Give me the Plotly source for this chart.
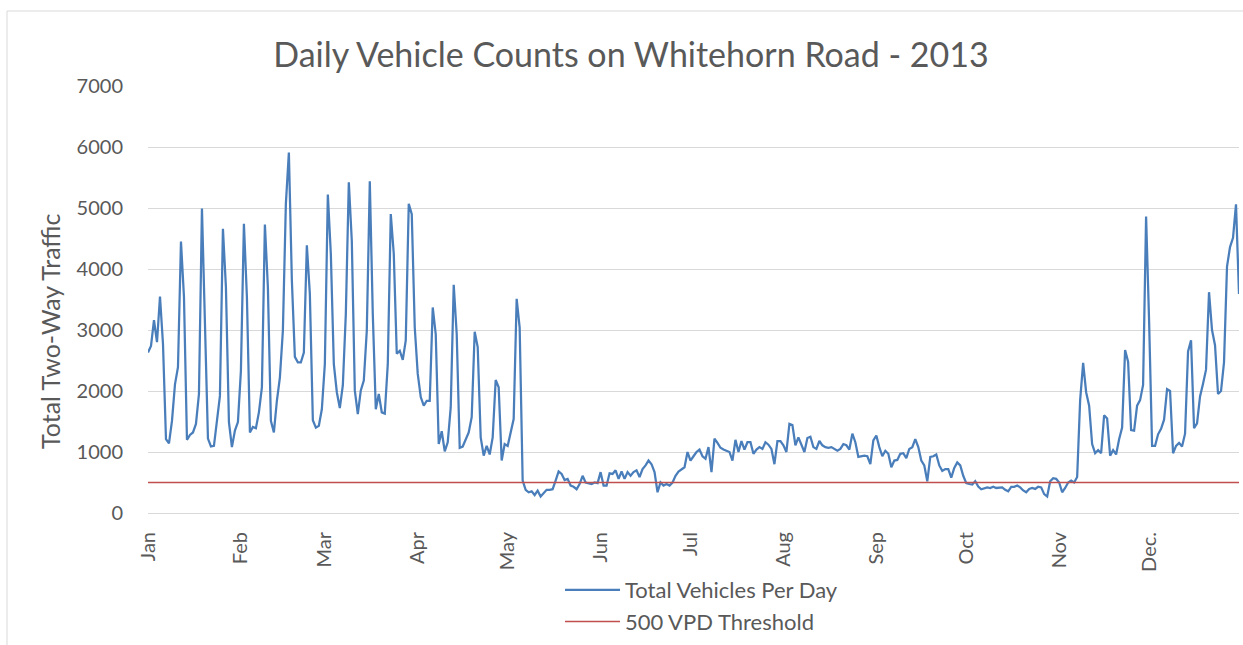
import pandas as pd
import plotly.graph_objects as go

# ---- data -----------------------------------------------------------
start_date = "2013-01-01"
vehicles_per_day = [
    2630, 2740, 3160, 2800, 3550, 2770, 1210, 1140, 1510, 2110,
    2390, 4450, 3540, 1200, 1280, 1320, 1460, 1950, 4990, 3300,
    1220, 1090, 1100, 1510, 1920, 4660, 3700, 1490, 1080, 1350,
    1490, 2330, 4740, 3540, 1320, 1410, 1390, 1650, 2060, 4730,
    3700, 1510, 1320, 1840, 2220, 2990, 5070, 5910, 3810, 2560,
    2470, 2470, 2630, 4390, 3590, 1520, 1400, 1430, 1700, 2440,
    5220, 4250, 2440, 1980, 1720, 2090, 3260, 5420, 4460, 2010,
    1620, 2010, 2170, 2990, 5440, 3260, 1700, 1950, 1650, 1630,
    2440, 4900, 4250, 2610, 2660, 2510, 2830, 5070, 4900, 3040,
    2280, 1900, 1760, 1840, 1840, 3370, 2930, 1130, 1340, 1010,
    1160, 1730, 3740, 2930, 1070, 1090, 1210, 1320, 1570, 2970,
    2720, 1240, 940, 1100, 960, 1240, 2180, 2060, 860, 1130,
    1100, 1300, 1540, 3510, 3040, 530, 380, 340, 355, 295,
    366, 270, 320, 380, 380, 390, 530, 680, 640, 540,
    560, 450, 430, 390, 475, 610, 500, 490, 475, 500,
    490, 670, 450, 450, 650, 640, 700, 560, 680, 560,
    670, 610, 670, 700, 590, 720, 780, 860, 800, 670,
    340, 500, 450, 475, 450, 500, 610, 680, 720, 750,
    1000, 860, 930, 1000, 1040, 930, 890, 1080, 670, 1220,
    1150, 1070, 1040, 1020, 1000, 860, 1200, 1000, 1180, 1040,
    1160, 1160, 970, 1040, 1080, 1050, 1160, 1120, 1050, 800,
    1180, 1180, 1110, 1000, 1460, 1440, 1110, 1240, 1110, 1000,
    1230, 1250, 1080, 1050, 1180, 1110, 1080, 1070, 1080, 1050,
    1020, 1050, 1130, 1110, 1040, 1300, 1160, 920, 930, 940,
    930, 800, 1190, 1270, 1080, 930, 1020, 970, 750, 860,
    870, 970, 980, 900, 1050, 1080, 1210, 1080, 860, 780,
    520, 920, 930, 960, 780, 690, 720, 720, 580, 740,
    830, 780, 610, 490, 475, 465, 520, 435, 390, 410,
    420, 410, 430, 410, 420, 420, 380, 355, 430, 430,
    450, 420, 370, 340, 395, 410, 395, 430, 420, 310,
    270, 520, 570, 560, 500, 340, 410, 500, 530, 500,
    590, 1850, 2460, 1980, 1760, 1130, 980, 1030, 980, 1600,
    1550, 940, 1030, 960, 1210, 1400, 2670, 2480, 1360, 1350,
    1760, 1850, 2100, 4860, 3160, 1100, 1100, 1290, 1380, 1530,
    2030, 2000, 980, 1100, 1150, 1090, 1300, 2650, 2830, 1390,
    1470, 1910, 2120, 2350, 3620, 3000, 2750, 1950, 2000, 2470,
    4040, 4360, 4510, 5060, 3590,
]
threshold_vpd = 500
month_starts = ["2013-01-01", "2013-02-01", "2013-03-01", "2013-04-01",
                "2013-05-01", "2013-06-01", "2013-07-01", "2013-08-01",
                "2013-09-01", "2013-10-01", "2013-11-01", "2013-12-01"]
month_labels = ["Jan", "Feb", "Mar", "Apr", "May", "Jun", "Jul", "Aug",
                "Sep", "Oct", "Nov", "Dec."]
y_ticks = [0, 1000, 2000, 3000, 4000, 5000, 6000, 7000]

dates = pd.date_range(start_date, periods=len(vehicles_per_day), freq="D")

# ---- figure ---------------------------------------------------------
FONT = "Lato, Carlito, Calibri, sans-serif"
TXT = "#595959"
GRID = "#D9D9D9"

fig = go.Figure()
fig.add_trace(go.Scatter(
    x=dates, y=vehicles_per_day, mode="lines",
    name="Total Vehicles Per Day",
    line=dict(color="#4A7EBB", width=2.25),
))
fig.add_trace(go.Scatter(
    x=[dates[0], dates[-1]], y=[threshold_vpd, threshold_vpd], mode="lines",
    name="500 VPD Threshold",
    line=dict(color="#C0504D", width=1.5),
))

fig.update_layout(
    width=1243, height=645,
    margin=dict(l=148, r=4, t=86, b=132, autoexpand=False),
    paper_bgcolor="white", plot_bgcolor="white",
    font=dict(family=FONT, color=TXT, size=20),
    title=dict(text="Daily Vehicle Counts on Whitehorn Road - 2013",
               x=631 / 1243, xanchor="center", xref="container",
               y=1 - 55 / 645, yanchor="middle", yref="container",
               font=dict(size=34, color=TXT, family=FONT)),
    showlegend=True,
    legend=dict(orientation="v", x=(560 - 148) / 1091, xanchor="left",
                y=(513 - 569) / 427, yanchor="top",
                font=dict(size=22, color=TXT, family=FONT),
                bgcolor="rgba(0,0,0,0)", itemwidth=55, tracegroupgap=0),
    xaxis=dict(
        type="date",
        range=[dates[0], dates[-1]],
        tickmode="array", tickvals=month_starts, ticktext=month_labels,
        tickangle=-90, showgrid=False, zeroline=False,
        showline=True, linecolor=GRID, linewidth=1,
        ticks="", ticklen=0, ticklabelstandoff=10, automargin=False,
        tickfont=dict(size=20, color=TXT, family=FONT),
    ),
    yaxis=dict(
        range=[0, 7000], tickmode="array", tickvals=y_ticks,
        showgrid=True, gridcolor=GRID, gridwidth=1, zeroline=False,
        showline=False, ticks="", ticklabelstandoff=24, automargin=False,
        tickfont=dict(size=20, color=TXT, family=FONT),
    ),
    annotations=[dict(
        text="Total Two-Way Traffic", textangle=-90,
        xref="paper", yref="paper",
        x=(50 - 148) / 1091, y=(513 - 331) / 427,
        xanchor="center", yanchor="middle", showarrow=False,
        font=dict(size=25, color=TXT, family=FONT),
    )],
    shapes=[dict(
        type="rect", xref="paper", yref="paper", layer="below",
        x0=(7 - 148) / 1091, x1=(1260 - 148) / 1091,
        y0=(513 - 660) / 427, y1=(513 - 11) / 427,
        line=dict(color=GRID, width=1), fillcolor="rgba(0,0,0,0)",
    )],
)

fig.write_html("out.html",
               config={"displayModeBar": False},
               post_script="document.body.style.margin='0';"
                           "document.body.style.overflow='hidden';")
